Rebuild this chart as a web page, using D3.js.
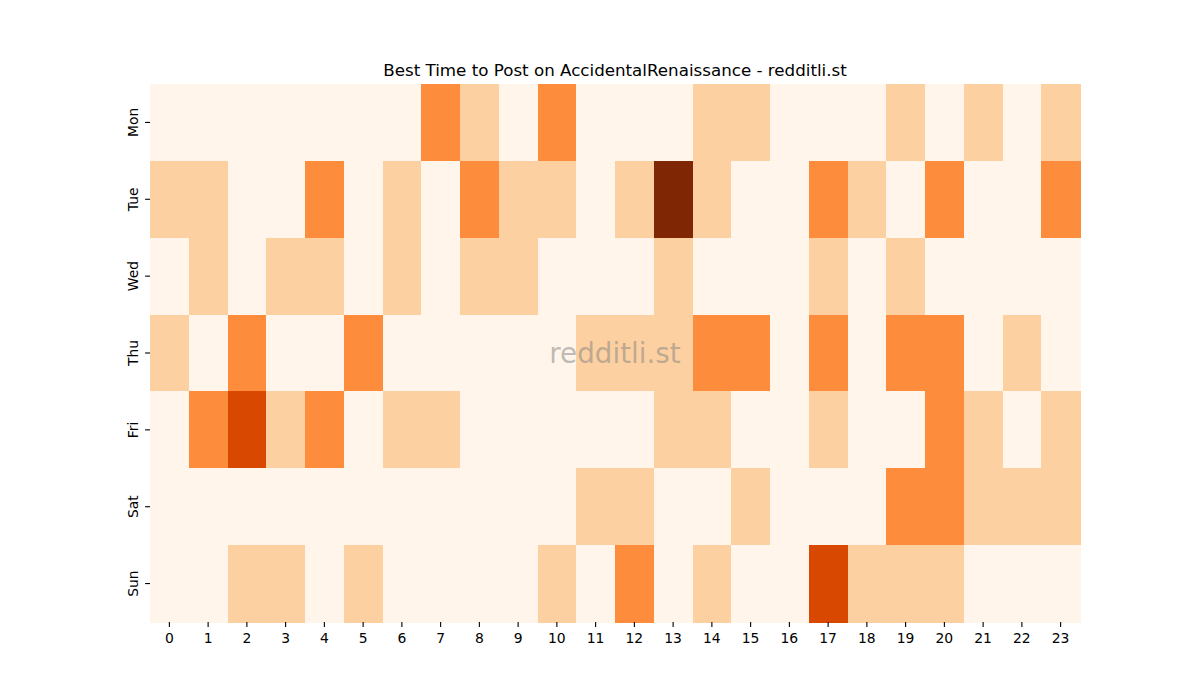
<!DOCTYPE html>
<html>
<head>
<meta charset="utf-8">
<script src="https://cdn.jsdelivr.net/npm/d3@7"></script>
<style>
  body { margin: 0; background: #fff; }
  text { font-family: "DejaVu Sans", sans-serif; }
</style>
</head>
<body>
<div id="chart"></div>
<script>
const days = ["Mon", "Tue", "Wed", "Thu", "Fri", "Sat", "Sun"];
const hours = d3.range(24);

// posts per hour, one array per day
const mon = [0,0,0,0,0,0,0,2,1,0,2,0,0,0,1,1,0,0,0,1,0,1,0,1];
const tue = [1,1,0,0,2,0,1,0,2,1,1,0,1,4,1,0,0,2,1,0,2,0,0,2];
const wed = [0,1,0,1,1,0,1,0,1,1,0,0,0,1,0,0,0,1,0,1,0,0,0,0];
const thu = [1,0,2,0,0,2,0,0,0,0,0,1,1,1,2,2,0,2,0,2,2,0,1,0];
const fri = [0,2,3,1,2,0,1,1,0,0,0,0,0,1,1,0,0,1,0,0,2,1,0,1];
const sat = [0,0,0,0,0,0,0,0,0,0,0,1,1,0,0,1,0,0,0,2,2,1,1,1];
const sun = [0,0,1,1,0,1,0,0,0,0,1,0,2,0,1,0,0,3,1,1,1,0,0,0];
const grid = [mon, tue, wed, thu, fri, sat, sun];

const oranges = ["#fff5eb","#fee6ce","#fdd0a2","#fdae6b","#fd8d3c","#f16913","#d94801","#a63603","#7f2704"];

const width = 1200, height = 700;
const margin = { top: 84, right: 120, bottom: 78, left: 150 };

const svg = d3.select("#chart").append("svg")
  .attr("width", width)
  .attr("height", height);

const x = d3.scaleBand()
  .domain(hours)
  .range([margin.left, width - margin.right]);

const y = d3.scaleBand()
  .domain(days)
  .range([margin.top, height - margin.bottom]);

const vmax = d3.max(grid.flat());
const color = d3.scaleLinear()
  .domain(oranges.map((c, i) => i * vmax / (oranges.length - 1)))
  .range(oranges);

const cells = [];
grid.forEach((row, r) => row.forEach((v, h) => cells.push({ day: days[r], hour: h, v })));

svg.append("g")
  .selectAll("rect")
  .data(cells)
  .join("rect")
  .attr("x", d => x(d.hour))
  .attr("y", d => y(d.day))
  .attr("width", x.bandwidth() + 0.5)
  .attr("height", y.bandwidth() + 0.5)
  .attr("fill", d => color(d.v))
  .attr("shape-rendering", "crispEdges");

const xAxis = svg.append("g")
  .attr("transform", `translate(0,${height - margin.bottom})`)
  .call(d3.axisBottom(x).tickSize(4.9).tickPadding(6));
xAxis.select(".domain").remove();
xAxis.selectAll("text").attr("font-size", 13.9).attr("fill", "#000").style("font-family", "DejaVu Sans");
xAxis.selectAll("line").attr("stroke", "#000").attr("stroke-width", 1.1);

const yAxis = svg.append("g")
  .attr("transform", `translate(${margin.left},0)`)
  .call(d3.axisLeft(y).tickSize(4.9).tickPadding(4.5));
yAxis.select(".domain").remove();
yAxis.selectAll("line").attr("stroke", "#000").attr("stroke-width", 1.1);
yAxis.selectAll("text")
  .attr("font-size", 13.9)
  .attr("fill", "#000")
  .style("font-family", "DejaVu Sans")
  .attr("x", null).attr("dy", null)
  .attr("text-anchor", "middle")
  .attr("transform", "translate(-17,0) rotate(-90)")
  .attr("dominant-baseline", "central");

svg.append("text")
  .attr("x", (margin.left + width - margin.right) / 2)
  .attr("y", 76)
  .attr("text-anchor", "middle")
  .attr("font-size", 16.7)
  .text("Best Time to Post on AccidentalRenaissance - redditli.st");

svg.append("text")
  .attr("x", (margin.left + width - margin.right) / 2)
  .attr("y", (margin.top + height - margin.bottom) / 2)
  .attr("text-anchor", "middle")
  .attr("dominant-baseline", "central")
  .attr("font-size", 27.8)
  .attr("fill", "#808080")
  .attr("fill-opacity", 0.5)
  .text("redditli.st");
</script>
</body>
</html>
